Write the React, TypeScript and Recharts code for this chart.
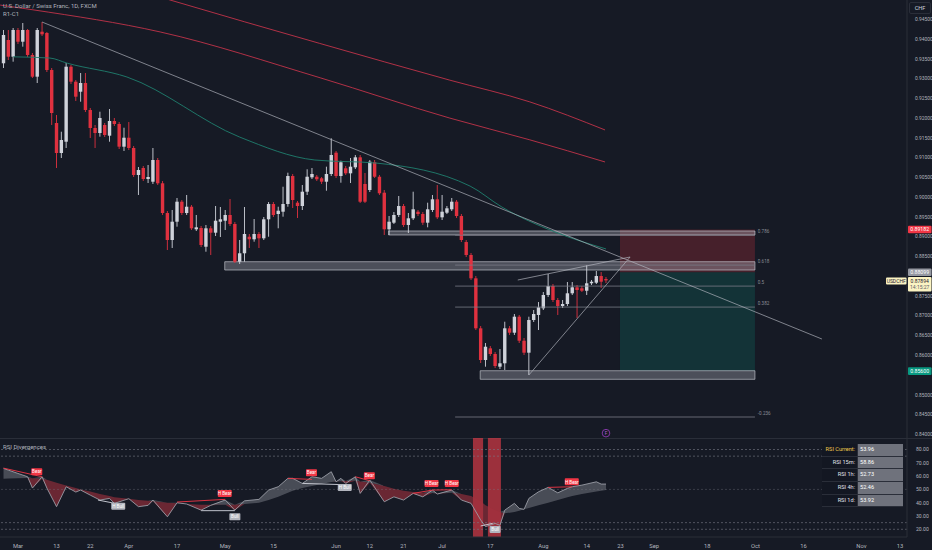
import {
  Area,
  Bar,
  ComposedChart,
  Line,
  ReferenceArea,
  ReferenceDot,
  ReferenceLine,
  XAxis,
  YAxis,
} from 'recharts'

const FONT = 'Roboto, "Noto Sans", sans-serif'
const BG = '#161a25'
const TEXT = '#b2b5be'
const GRID = '#2a2e39'
const UP = '#cfd2da'
const DOWN = '#e0313f'

// daily bars, index 0 = 1 Mar 2023
const firstBar = -3
const ohlc: number[][] = [
  [0.93387, 0.94229, 0.93268, 0.94103],
  [0.93976, 0.94229, 0.9347, 0.93554],
  [0.93554, 0.9428, 0.93427, 0.94229],
  [0.94229, 0.9428, 0.93875, 0.93933],
  [0.93933, 0.94406, 0.93807, 0.94229],
  [0.94229, 0.94254, 0.93546, 0.93597],
  [0.93597, 0.93647, 0.93015, 0.93048],
  [0.93048, 0.9428, 0.92888, 0.94229],
  [0.94186, 0.94431, 0.94077, 0.9412],
  [0.94153, 0.94178, 0.93166, 0.93217],
  [0.93217, 0.93268, 0.91826, 0.92129],
  [0.91876, 0.92079, 0.90738, 0.91117],
  [0.91117, 0.91656, 0.90991, 0.91446],
  [0.91403, 0.93394, 0.91244, 0.93301],
  [0.93301, 0.93344, 0.92863, 0.92921],
  [0.92921, 0.92964, 0.92433, 0.92542],
  [0.92668, 0.93141, 0.92415, 0.92888],
  [0.92888, 0.93141, 0.92154, 0.92205],
  [0.92205, 0.92256, 0.91497, 0.9175],
  [0.9175, 0.91826, 0.91244, 0.91623],
  [0.91623, 0.92162, 0.9153, 0.92003],
  [0.91826, 0.91876, 0.91522, 0.91573],
  [0.91555, 0.9223, 0.91403, 0.91927],
  [0.91927, 0.92003, 0.918, 0.91851],
  [0.91851, 0.91901, 0.91218, 0.91277],
  [0.91277, 0.91757, 0.91168, 0.91504],
  [0.91504, 0.91901, 0.91193, 0.91244],
  [0.91244, 0.91294, 0.9051, 0.90561],
  [0.90561, 0.90763, 0.90055, 0.90687],
  [0.90738, 0.90788, 0.90409, 0.90459],
  [0.90459, 0.90814, 0.90358, 0.9051],
  [0.90391, 0.91244, 0.90333, 0.9094],
  [0.9094, 0.90991, 0.90308, 0.90351],
  [0.90351, 0.90409, 0.89549, 0.89599],
  [0.89599, 0.8965, 0.88663, 0.88916],
  [0.88916, 0.89675, 0.88714, 0.89379],
  [0.89379, 0.89979, 0.89253, 0.89885],
  [0.89885, 0.89928, 0.89549, 0.89599],
  [0.89599, 0.90055, 0.89549, 0.89758],
  [0.89758, 0.89801, 0.89169, 0.89212],
  [0.89187, 0.89549, 0.89144, 0.89237],
  [0.8922, 0.8927, 0.88739, 0.8879],
  [0.88746, 0.89296, 0.8862, 0.89212],
  [0.89212, 0.8927, 0.88537, 0.89101],
  [0.89101, 0.89776, 0.89017, 0.89404],
  [0.89379, 0.89751, 0.88992, 0.8944],
  [0.89404, 0.89675, 0.89169, 0.89549],
  [0.89549, 0.89953, 0.8927, 0.89321],
  [0.89321, 0.89371, 0.88334, 0.88367],
  [0.88367, 0.88916, 0.88309, 0.8858],
  [0.8858, 0.89751, 0.88367, 0.89068],
  [0.88999, 0.89068, 0.88714, 0.88934],
  [0.88934, 0.89447, 0.88873, 0.89068],
  [0.89068, 0.89118, 0.88714, 0.88959],
  [0.88959, 0.89498, 0.88916, 0.8944],
  [0.8944, 0.89877, 0.88999, 0.89827],
  [0.89827, 0.89877, 0.89498, 0.89549],
  [0.89574, 0.89758, 0.89212, 0.89657],
  [0.89632, 0.90264, 0.89506, 0.89827],
  [0.89827, 0.90619, 0.89758, 0.90535],
  [0.90535, 0.90586, 0.89726, 0.89928],
  [0.8986, 0.89903, 0.89473, 0.89776],
  [0.89776, 0.90308, 0.89675, 0.90138],
  [0.90138, 0.90705, 0.90055, 0.90517],
  [0.90502, 0.90738, 0.90459, 0.90586],
  [0.90517, 0.90561, 0.90409, 0.90452],
  [0.90477, 0.9051, 0.90333, 0.90391],
  [0.90391, 0.90771, 0.90163, 0.90586],
  [0.90586, 0.91489, 0.90535, 0.91067],
  [0.91125, 0.91168, 0.90485, 0.90535],
  [0.90535, 0.90922, 0.90366, 0.90882],
  [0.9073, 0.90788, 0.90561, 0.90603],
  [0.90603, 0.90991, 0.90358, 0.90771],
  [0.90755, 0.91067, 0.90712, 0.91008],
  [0.91008, 0.91067, 0.89852, 0.89885],
  [0.90333, 0.90611, 0.89852, 0.89885],
  [0.90181, 0.9094, 0.9013, 0.90897],
  [0.90882, 0.9094, 0.90485, 0.90517],
  [0.90517, 0.90561, 0.90055, 0.90098],
  [0.90113, 0.90181, 0.89043, 0.89187],
  [0.89187, 0.89523, 0.89043, 0.89379],
  [0.89354, 0.89624, 0.89321, 0.89549],
  [0.89549, 0.90029, 0.89498, 0.89776],
  [0.89776, 0.89827, 0.89245, 0.89296],
  [0.89296, 0.89599, 0.89093, 0.89465],
  [0.89465, 0.90138, 0.89422, 0.89693],
  [0.89632, 0.89675, 0.89523, 0.89574],
  [0.89574, 0.89624, 0.89296, 0.89354],
  [0.89354, 0.8986, 0.89237, 0.89693],
  [0.89675, 0.90055, 0.89624, 0.89946],
  [0.89946, 0.90308, 0.89447, 0.8949],
  [0.8949, 0.90055, 0.89422, 0.89632],
  [0.89607, 0.89776, 0.89574, 0.89718],
  [0.89693, 0.89979, 0.8965, 0.89885],
  [0.89885, 0.89928, 0.89473, 0.89523],
  [0.89523, 0.89574, 0.88865, 0.88916],
  [0.88865, 0.88916, 0.88486, 0.88537],
  [0.88537, 0.88587, 0.87904, 0.87947],
  [0.87947, 0.88005, 0.86639, 0.86682],
  [0.86682, 0.8674, 0.85804, 0.8588],
  [0.8588, 0.8631, 0.85711, 0.86216],
  [0.86176, 0.86234, 0.85981, 0.86032],
  [0.86032, 0.86082, 0.85678, 0.85728],
  [0.85711, 0.86158, 0.85652, 0.85797],
  [0.85797, 0.86849, 0.85627, 0.86682],
  [0.86682, 0.8674, 0.86513, 0.86571],
  [0.86571, 0.87044, 0.86513, 0.86976],
  [0.86976, 0.87019, 0.8631, 0.86368],
  [0.86368, 0.86437, 0.86007, 0.86065],
  [0.86065, 0.86976, 0.85501, 0.86892],
  [0.86892, 0.87145, 0.86841, 0.87044],
  [0.87019, 0.87347, 0.86639, 0.87213],
  [0.87188, 0.876, 0.87145, 0.87525],
  [0.87525, 0.88056, 0.87474, 0.87752],
  [0.87752, 0.87803, 0.87347, 0.87398],
  [0.87398, 0.87449, 0.87019, 0.87246],
  [0.87246, 0.87398, 0.87196, 0.87297],
  [0.87297, 0.87853, 0.87246, 0.87568],
  [0.87568, 0.87853, 0.87525, 0.87719],
  [0.87719, 0.87778, 0.86943, 0.87651],
  [0.87694, 0.87752, 0.876, 0.87633],
  [0.87633, 0.88284, 0.87525, 0.87821],
  [0.87821, 0.87904, 0.87778, 0.87861],
  [0.87836, 0.88132, 0.87803, 0.88005],
  [0.88005, 0.88106, 0.87702, 0.87861],
  [0.87929, 0.8798, 0.87828, 0.87894],
]

// moving averages read at a few bars: [bar, price]
const maTeal = [
  [-1, 0.9355], [6.6, 0.9352], [10.2, 0.9339], [22.6, 0.9304], [46, 0.9152], [61.6, 0.9094],
  [74.5, 0.9086], [93.8, 0.9028], [100.4, 0.8975], [111.4, 0.8912], [122, 0.8869],
]
const maRedLow = [
  [-3.7, 0.9486], [3.1, 0.9474], [29.5, 0.9418], [62.7, 0.9302], [89.6, 0.92], [106.2, 0.9145], [121.8, 0.9089],
]
const maRedHigh = [
  [20, 0.9541], [31.5, 0.9499], [62.6, 0.9389], [89.6, 0.9296], [106.2, 0.9241], [121.8, 0.917],
]

// drawings: [x1, x2, low, high]
const zones = [
  [76.9, 152.9, 0.89043, 0.89144],
  [42.9, 152.9, 0.88157, 0.88367],
  [95.9, 152.9, 0.85392, 0.85609],
]
const stopZone = [124.9, 152.9, 0.88099, 0.89182]
const targetZone = [124.9, 152.9, 0.856, 0.88099]
const fibLevels = [0.89037, 0.88281, 0.8775, 0.87219, 0.84438]
const fibNames = ['0.786', '0.618', '0.5', '0.382', '-0.236']
const fibFrom = 90.7
const fibTo = 152.9
const trendLines = [
  [5, 0.94431, 166.8, 0.86411],
  [106, 0.85501, 127, 0.88486],
  [103.7, 0.87904, 127, 0.88486],
]

// 0.880 and 0.855 sit under the price tags
const priceTicks = [
  0.84, 0.845, 0.85, 0.86, 0.865, 0.87, 0.875, 0.885, 0.89, 0.895, 0.9, 0.905, 0.91,
  0.915, 0.92, 0.925, 0.93, 0.935, 0.94, 0.945,
]
const timeTicks = [0, 8, 15, 23, 33, 43, 53, 66, 73, 80, 88, 98, 109, 118, 125, 132, 143, 153, 163, 175, 183]
const timeLabels = ['Mar', '13', '22', 'Apr', '17', 'May', '15', 'Jun', '12', '21', 'Jul', '17', 'Aug', '14', '23', 'Sep', '18', 'Oct', '16', 'Nov', '13']

// RSI pane: [bar, rsi, rsi average]
const rsiRows = [
  [-3, 65.8, 58], [-2, 64.5, 58.2], [0, 62, 58.4], [2, 59.5, 58.5], [3, 51, 58.4], [5, 59.5, 58],
  [6, 51, 57.2], [8, 37, 55], [10, 52, 53], [12, 48, 51], [13, 49.5, 50], [15, 45.7, 48.5],
  [17, 42, 46.5], [19, 43.2, 45], [20, 39.5, 44], [23, 43, 43], [25, 37, 42], [27, 38, 41.5],
  [28, 42, 41], [31, 29.4, 40], [33, 40, 39.5], [35, 39, 39], [38, 34.4, 38.5], [40, 38, 38.5],
  [43, 42, 38.5], [45, 34.4, 38.5], [47, 41.4, 39], [50, 42.5, 40], [52, 49.5, 42], [54, 52, 44.5],
  [56, 58.3, 47.5], [57, 58.3, 49], [59, 54.5, 51], [61, 59.5, 52.5], [63, 58.3, 54], [65, 63.3, 55.5],
  [66, 55.7, 56], [67, 58.3, 56.2], [68, 54.5, 56.3], [70, 59.5, 56.5], [71, 47, 56], [73, 57, 55],
  [76, 40.7, 52.5], [78, 44.4, 50.5], [80, 42, 49], [82, 47, 48], [84, 44.4, 47.5], [86, 49.5, 47.2],
  [87, 46.5, 47], [90, 49.5, 47.5], [92, 42, 46.5], [94, 39.5, 45], [96, 27, 41], [97, 22, 38],
  [99, 24.4, 34.5], [100, 23, 33], [101, 34.4, 32], [103, 39.5, 33], [104, 35.7, 34], [105, 35, 35],
  [106, 43.2, 36], [108, 48.2, 38], [110, 51.5, 40], [112, 47.4, 42], [114, 50.8, 44], [115, 52, 45],
  [117, 53.2, 46.5], [120, 55.7, 48.5], [121, 54, 49], [122, 54, 49.5],
]
const rsiLevels = [80, 75, 50, 25, 20]
const rsiTicks = [20, 30, 40, 50, 60, 70, 80]
const oversoldBands = [[94.4, 96.5], [97.5, 100.2]]
// [x1, rsi1, x2, rsi2, bearish]
const divLines = [
  [-3, 66, 5, 59.5, 1], [16.6, 42, 20.1, 39.5, 0], [33, 40.5, 43, 42.5, 1], [38, 34, 45, 34, 0],
  [56, 58.3, 61, 57.5, 1], [59, 54.5, 68, 53.5, 0], [70, 59.5, 73, 56.5, 1], [82, 47, 86, 49.5, 1],
  [86, 49.5, 90, 49.7, 1], [96, 22.5, 98.5, 24.5, 0], [110, 51.5, 115, 52, 1],
]
const divTags = [
  [3.9, 63.3, 'Bear'], [20.8, 37.4, 'H Bull'], [42.9, 47, 'H Bear'], [45, 29.4, 'Bull'],
  [60.9, 62.5, 'Bear'], [67.8, 51.5, 'H Bull'], [72.9, 60.3, 'Bear'], [85.8, 54.5, 'H Bear'],
  [90, 54.5, 'H Bear'], [99, 19.9, 'Bull'], [114.9, 55.7, 'H Bear'],
]
const rsiTableNames = ['RSI Current:', 'RSI 15m:', 'RSI 1h:', 'RSI 4h:', 'RSI 1d:']
const rsiTableValues = [53.96, 58.86, 52.73, 52.46, 53.92]

const lastClose = 0.87894
const xDomain = [-3.73, 184.45]

const bars = ohlc.map(([o, h, l, c], k) => ({ i: firstBar + k, o, h, l, c }))
const toPoints = (rows: number[][]) => rows.map(([i, v]) => ({ i, v }))
const rsiData = rsiRows.map(([i, rsi, ma]) => ({
  i,
  rsi,
  up: [ma, Math.max(rsi, ma)],
  dn: [Math.min(rsi, ma), ma],
}))

function Candle(props: any) {
  const { x, y, width, height, payload } = props
  if (!payload) return null
  const { o, h, l, c } = payload
  const top = Math.min(y, y + height)
  const span = Math.abs(height)
  const at = (v: number) => top + ((h - v) / (h - l || 1)) * span
  const cx = x + width / 2
  const color = c >= o ? UP : DOWN
  const b1 = at(Math.max(o, c))
  const b2 = at(Math.min(o, c))
  return (
    <g>
      <line x1={cx} x2={cx} y1={top} y2={top + span} stroke={color} strokeWidth={0.9} />
      <rect x={cx - 1.7} y={b1} width={3.4} height={Math.max(b2 - b1, 0.8)} fill={color} />
    </g>
  )
}

const priceTag = (text: string, bg: string, fg: string) => (p: any) => (
  <g>
    <rect x={p.cx + 1} y={p.cy - 3.8} width={23.5} height={7.6} rx={1} fill={bg} />
    <text x={p.cx + 12.7} y={p.cy + 1.9} textAnchor="middle" fontSize={5.2} fill={fg} fontFamily={FONT}>
      {text}
    </text>
  </g>
)

function LastTag(p: any) {
  return (
    <g fontFamily={FONT} fontSize={5} fill="#1e222d">
      <rect x={p.cx - 21} y={p.cy - 3} width={20.5} height={7} rx={1} fill="#fbf3c2" />
      <text x={p.cx - 10.8} y={p.cy + 2.1} textAnchor="middle">USDCHF</text>
      <rect x={p.cx + 1} y={p.cy - 3.5} width={23.5} height={14.5} rx={1} fill="#fbf3c2" />
      <text x={p.cx + 12.7} y={p.cy + 2.1} textAnchor="middle">{lastClose.toFixed(5)}</text>
      <text x={p.cx + 12.7} y={p.cy + 8.8} textAnchor="middle" fill="#5d606b">14:15:27</text>
    </g>
  )
}

function App() {
  return (
    <div style={{ position: 'absolute', left: 0, top: 0, width: 932, height: 550, background: BG, overflow: 'hidden', fontFamily: FONT }}>
      <div style={{ position: 'absolute', left: 0, top: 0 }}>
        <ComposedChart width={932} height={438} data={bars} margin={{ top: 0, right: 0, bottom: 0, left: 0 }}>
          <XAxis type="number" dataKey="i" domain={xDomain} allowDataOverflow hide />
          <YAxis
            orientation="right"
            type="number"
            domain={[0.83907, 0.94988]}
            allowDataOverflow
            ticks={priceTicks}
            tickFormatter={(v: number) => v.toFixed(5)}
            width={25}
            tick={{ fontSize: 4.9, fill: TEXT, fontFamily: FONT }}
            tickLine={false}
            tickMargin={2}
            axisLine={{ stroke: GRID }}
          />
          <ReferenceArea x1={stopZone[0]} x2={stopZone[1]} y1={stopZone[2]} y2={stopZone[3]} fill="#f23645" fillOpacity={0.22} stroke="none" />
          <ReferenceArea x1={targetZone[0]} x2={targetZone[1]} y1={targetZone[2]} y2={targetZone[3]} fill="#089981" fillOpacity={0.2} stroke="none" />
          {zones.map(([x1, x2, y1, y2], k) => (
            <ReferenceArea key={'z' + k} x1={x1} x2={x2} y1={y1} y2={y2} fill="#b2b5be" fillOpacity={0.35} stroke="#c8cbd3" strokeOpacity={0.8} strokeWidth={0.8} />
          ))}
          {fibLevels.map((lv, k) => (
            <ReferenceLine key={'f' + k} segment={[{ x: fibFrom, y: lv }, { x: fibTo, y: lv }]} stroke="#787b86" strokeWidth={0.8} />
          ))}
          {fibLevels.map((lv, k) => (
            <ReferenceDot
              key={'fl' + k}
              x={fibTo + 0.6}
              y={lv}
              r={0}
              ifOverflow="visible"
              shape={(p: any) => (
                <text x={p.cx} y={p.cy - 2.5} fontSize={4.6} fill="#8a8d97" fontFamily={FONT}>
                  {fibNames[k]}
                </text>
              )}
            />
          ))}
          <Line data={toPoints(maRedHigh)} dataKey="v" type="monotone" stroke="#c2334a" strokeWidth={0.9} dot={false} isAnimationActive={false} />
          <Line data={toPoints(maRedLow)} dataKey="v" type="monotone" stroke="#c2334a" strokeWidth={0.9} dot={false} isAnimationActive={false} />
          <Line data={toPoints(maTeal)} dataKey="v" type="monotone" stroke="#1f7f6e" strokeWidth={0.9} dot={false} isAnimationActive={false} />
          {trendLines.map(([x1, y1, x2, y2], k) => (
            <ReferenceLine key={'t' + k} segment={[{ x: x1, y: y1 }, { x: x2, y: y2 }]} stroke="#b2b5be" strokeOpacity={0.85} strokeWidth={0.8} />
          ))}
          <Bar dataKey={(d: any) => [d.l, d.h]} barSize={4} shape={<Candle />} isAnimationActive={false} />
          <ReferenceDot
            x={122}
            y={0.8403}
            r={0}
            ifOverflow="visible"
            shape={(p: any) => (
              <g>
                <circle cx={p.cx} cy={p.cy} r={3.8} fill="none" stroke="#9c3fc1" strokeWidth={0.8} />
                <text x={p.cx} y={p.cy + 1.8} textAnchor="middle" fontSize={4.8} fill="#b35dd6" fontFamily={FONT}>F</text>
              </g>
            )}
          />
          <ReferenceDot x={xDomain[1]} y={0.89182} r={0} ifOverflow="visible" shape={priceTag('0.89182', '#f23645', '#ffffff')} />
          <ReferenceDot x={xDomain[1]} y={0.88099} r={0} ifOverflow="visible" shape={priceTag('0.88099', '#9598a1', '#ffffff')} />
          <ReferenceDot x={xDomain[1]} y={0.856} r={0} ifOverflow="visible" shape={priceTag('0.85600', '#089981', '#ffffff')} />
          <ReferenceDot x={xDomain[1]} y={lastClose} r={0} ifOverflow="visible" shape={LastTag} />
        </ComposedChart>
      </div>

      <div style={{ position: 'absolute', left: 0, top: 438, width: 932, height: 1, background: GRID }} />

      <div style={{ position: 'absolute', left: 0, top: 438 }}>
        <ComposedChart width={932} height={112} data={rsiData} margin={{ top: 0, right: 0, bottom: 0, left: 0 }}>
          <XAxis
            type="number"
            dataKey="i"
            domain={xDomain}
            allowDataOverflow
            ticks={timeTicks}
            interval={0}
            tickFormatter={(v: number) => timeLabels[timeTicks.indexOf(v)] ?? ''}
            height={13}
            tick={{ fontSize: 5.8, fill: TEXT, fontFamily: FONT }}
            tickLine={false}
            tickMargin={1}
            axisLine={{ stroke: GRID }}
          />
          <YAxis
            orientation="right"
            type="number"
            domain={[14.2, 88.65]}
            allowDataOverflow
            ticks={rsiTicks}
            tickFormatter={(v: number) => v.toFixed(2)}
            width={25}
            tick={{ fontSize: 5.1, fill: TEXT, fontFamily: FONT }}
            tickLine={false}
            tickMargin={3}
            axisLine={{ stroke: GRID }}
          />
          {rsiLevels.map((lv) => (
            <ReferenceLine key={'l' + lv} y={lv} stroke="#787b86" strokeOpacity={lv === 50 ? 0.45 : 0.75} strokeDasharray="2 2" strokeWidth={0.8} />
          ))}
          {oversoldBands.map(([x1, x2], k) => (
            <ReferenceArea key={'b' + k} x1={x1} x2={x2} fill="#d63a46" fillOpacity={0.7} stroke="none" />
          ))}
          <Area dataKey="up" type="linear" fill="#6a6e78" fillOpacity={0.6} stroke="none" isAnimationActive={false} />
          <Area dataKey="dn" type="linear" fill="#a3303d" fillOpacity={0.6} stroke="none" isAnimationActive={false} />
          <Line dataKey="rsi" type="linear" stroke="#9a9da6" strokeWidth={0.9} dot={false} isAnimationActive={false} />
          {divLines.map(([x1, y1, x2, y2, bear], k) => (
            <ReferenceLine
              key={'d' + k}
              segment={[{ x: x1, y: y1 }, { x: x2, y: y2 }]}
              stroke={bear ? '#f23645' : '#d1d4dc'}
              strokeWidth={0.9}
            />
          ))}
          {divTags.map(([x, y, text], k) => {
            const bear = String(text).includes('Bear')
            const w = String(text).length > 4 ? 14 : 11
            return (
              <ReferenceDot
                key={'g' + k}
                x={x as number}
                y={y as number}
                r={0}
                ifOverflow="visible"
                shape={(p: any) => (
                  <g>
                    <rect x={p.cx - w / 2} y={p.cy - 3.5} width={w} height={7} rx={0.8} fill={bear ? '#f23645' : '#b2b5be'} />
                    <text x={p.cx} y={p.cy + 1.7} textAnchor="middle" fontSize={4.6} fill="#ffffff" fontFamily={FONT}>
                      {text}
                    </text>
                  </g>
                )}
              />
            )
          })}
        </ComposedChart>
      </div>

      <div style={{ position: 'absolute', left: 3, top: 2, fontSize: 6, color: TEXT, lineHeight: '8px' }}>
        <div>U.S. Dollar / Swiss Franc, 1D, FXCM</div>
        <div>R1-C1</div>
      </div>
      <div style={{ position: 'absolute', left: 909, top: 2, width: 20, height: 10, border: `1px solid ${GRID}`, borderRadius: 2, fontSize: 5.6, color: '#d1d4dc', textAlign: 'center', lineHeight: '10px' }}>
        CHF
      </div>
      <div style={{ position: 'absolute', left: 3, top: 443, fontSize: 6, color: TEXT }}>RSI Divergences</div>

      <div style={{ position: 'absolute', left: 822, top: 444, width: 81, fontSize: 5.6, lineHeight: '11.7px' }}>
        {rsiTableNames.map((name, k) => (
          <div key={name} style={{ display: 'flex', height: 11.7, borderBottom: `1px solid ${GRID}` }}>
            <div style={{ width: 35, textAlign: 'right', paddingRight: 2, boxSizing: 'border-box', background: '#131722', color: k === 0 ? '#f2c94c' : '#e0e3eb' }}>
              {name}
            </div>
            <div style={{ width: 46, paddingLeft: 2, boxSizing: 'border-box', background: '#6f727c', color: '#ffffff', borderLeft: `1px solid ${GRID}` }}>
              {rsiTableValues[k].toFixed(2)}
            </div>
          </div>
        ))}
      </div>
    </div>
  )
}

export default App
